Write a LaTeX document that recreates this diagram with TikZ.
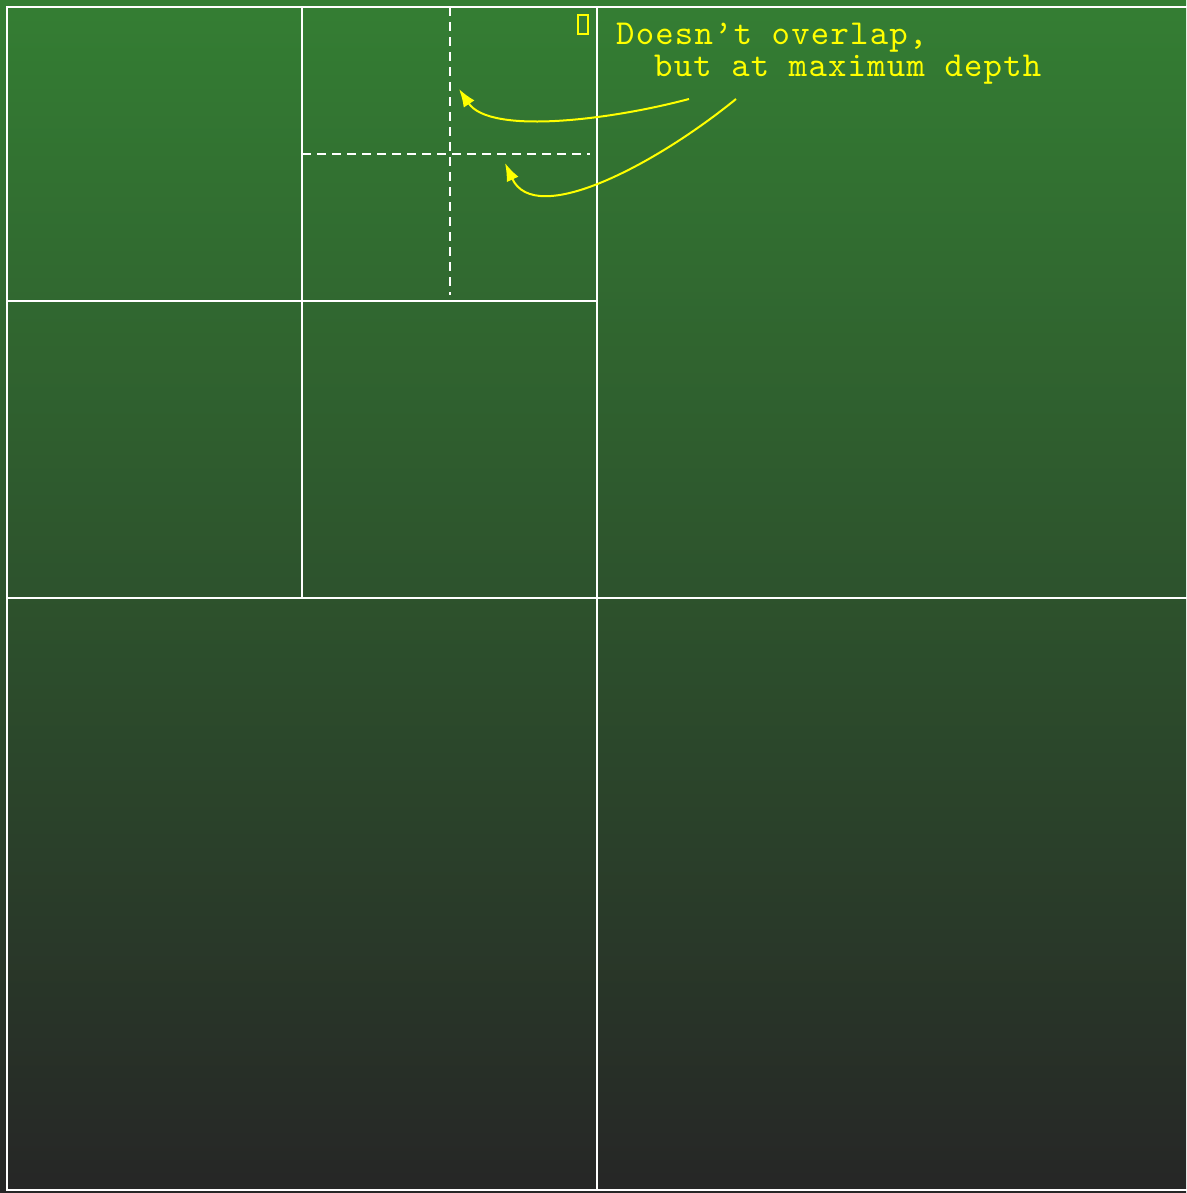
\documentclass[tikz,border=0pt]{standalone}
\usepackage{fontspec}
\newfontfamily\annotfont{lmmono10-regular.otf}[LetterSpace=3.5]
\usetikzlibrary{arrows.meta}
\definecolor{topgreen}{RGB}{52,126,51}
\definecolor{botdark}{RGB}{38,38,38}
\definecolor{annot}{RGB}{255,255,0}
\begin{document}
\begin{tikzpicture}[x=1pt,y=-1pt,
  gridline/.style={draw=white,line width=2pt},
  dashline/.style={draw=white,line width=2pt,dash pattern=on 9pt off 6pt},
  annotext/.style={text=annot,font=\annotfont\fontsize{35}{35}\selectfont,inner sep=0pt,anchor=base west},
  pointer/.style={draw=annot,line width=2pt,-{Latex[length=18pt,width=13pt]}}]
\useasboundingbox (0,0) rectangle (1186,1193);
\shade[top color=topgreen,bottom color=botdark] (0,0) rectangle (1186,1193);
% quadtree cells
\draw[gridline] (7,7) rectangle (1189,1190);
\draw[gridline] (597,7) -- (597,1190);
\draw[gridline] (7,598) -- (1189,598);
\draw[gridline] (302,7) -- (302,598);
\draw[gridline] (7,301) -- (597,301);
\draw[dashline] (449.5,7) -- (449.5,295);
\draw[dashline] (302,154) -- (590,154);
% small object
\draw[draw=annot,line width=2pt] (578,15) rectangle (588,34);
% annotation
\node[annotext] (l1) at (616,45) {Doesn’t overlap,};
\node[annotext] (l2) at (654,77) {but at maximum depth};
\coordinate (s1) at (689,99);
\coordinate (t1) at (459,89);
\coordinate (s2) at (736,99);
\coordinate (t2) at (505,163);
\draw[pointer] (s1) .. controls (610,120) and (490,135) .. (t1);
\draw[pointer] (s2) .. controls (655,165) and (535,228) .. (t2);
\end{tikzpicture}
\end{document}
